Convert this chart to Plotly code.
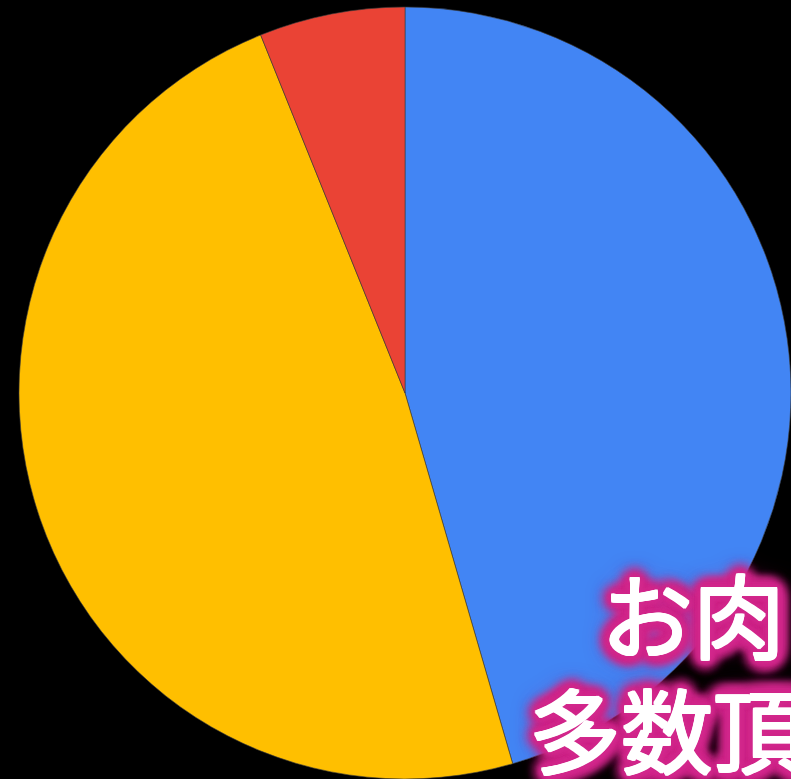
import math
import plotly.graph_objects as go

labels = ["A", "B", "C"]
values = [45.5, 48.4, 6.1]
colors = ["#4285F4", "#FFBF00", "#EA4335"]
line1 = "お肉"
line2 = "多数頂"

W, H = 791, 779
fig = go.Figure(go.Pie(
    labels=labels, values=values, sort=False, direction="clockwise", rotation=0,
    marker=dict(colors=colors, line=dict(color="rgba(60,60,60,0.6)", width=1)),
    textinfo="none", hoverinfo="none", showlegend=False,
    domain=dict(x=[19 / W, 1.0], y=[0.0, 772 / H]),
))

c = "rgba(210,40,140,0.8)"
parts = ["1px 0 0 white", "-1px 0 0 white", "0 1px 0 white", "0 -1px 0 white",
         "1px 1px 0 white", "-1px -1px 0 white", "1px -1px 0 white", "-1px 1px 0 white"]
for r, b in [(5, 4), (10, 8)]:
    for k in range(12):
        a = 2 * math.pi * (k + 0.5 * (r == 10)) / 12
        parts.append(f"{r * math.cos(a):.1f}px {r * math.sin(a):.1f}px {b}px {c}")
parts += [f"0 0 20px {c}", f"0 0 26px {c}"]
glow = ", ".join(parts)

for txt, x, y in [(line1, 599, 611), (line2, 527, 726)]:
    fig.add_annotation(
        text=txt, x=x / W, y=1 - y / H, xref="paper", yref="paper",
        xanchor="left", yanchor="middle", showarrow=False,
        font=dict(family="Noto Sans CJK JP", size=92, color="white", shadow=glow),
    )

fig.update_layout(
    width=W, height=H, margin=dict(l=0, r=0, t=0, b=0),
    paper_bgcolor="black", plot_bgcolor="black",
)
fig.write_html("out.html", config={"displayModeBar": False}, post_script=(
    "document.body.style.margin='0';document.body.style.background='black';"
    "document.body.style.overflow='hidden';"))
